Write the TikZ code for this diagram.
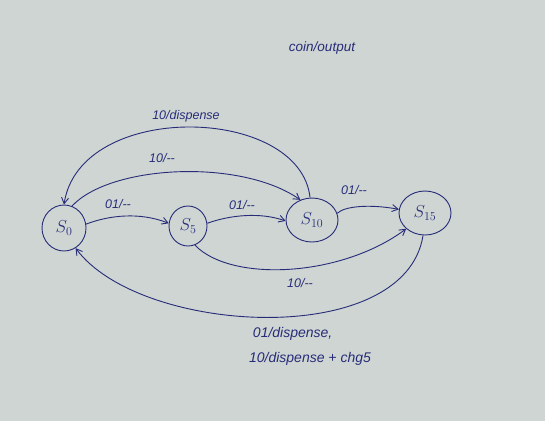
\documentclass[tikz,border=0pt]{standalone}
\usepackage{fontspec}
\setmainfont{Liberation Sans}
\usetikzlibrary{shapes.geometric,arrows.meta}
\definecolor{paper}{RGB}{206,213,211}
\definecolor{ink}{RGB}{40,44,120}
\tikzset{
  state/.style={ellipse,draw=ink,line width=0.9pt,inner sep=0pt,text=ink,font=\fontsize{17}{17}\selectfont},
  edge/.style={draw=ink,line width=0.9pt,-{Straight Barb[length=6pt,width=7pt]}},
  lbl/.style={text=ink,font=\fontsize{12.5}{13}\selectfont\itshape,inner sep=1pt}
}
\begin{document}
\begin{tikzpicture}[x=1pt,y=-1pt]
\fill[paper] (0,0) rectangle (545,421);
\useasboundingbox (0,0) rectangle (545,421);
\node[state,minimum width=44pt,minimum height=46pt] (s0) at (64,228) {$S_0$};
\node[state,minimum width=38pt,minimum height=40pt] (s5) at (188,226) {$S_5$};
\node[state,minimum width=52pt,minimum height=44pt] (s10) at (312,220) {$S_{10}$};
\node[state,minimum width=52pt,minimum height=44pt] (s15) at (425,213) {$S_{15}$};
\node[lbl,font=\fontsize{13.5}{14}\selectfont\itshape] (title) at (322,48) {coin/output};
% straight-ish edges
\draw[edge] (s0.10) .. controls (110,215) and (140,212) .. (s5.172);
\node[lbl] (l1) at (118,204) {01/-{}-};
\draw[edge] (s5.8) .. controls (230,215) and (260,212) .. (s10.182);
\node[lbl] (l2) at (242,205) {01/-{}-};
\draw[edge] (s10.15) .. controls (345,206) and (370,204) .. (s15.172);
\node[lbl] (l3) at (354,190) {01/-{}-};
% top arcs
\draw[edge] (s10.95) .. controls (300,105) and (80,100) .. (s0.90);
\node[lbl] (l4) at (186,116) {10/dispense};
\draw[edge] (s0.70) .. controls (110,165) and (240,158) .. (s10.120);
\node[lbl] (l5) at (162,158) {10/-{}-};
% bottom arcs
\draw[edge] (s5.-70) .. controls (230,282) and (340,278) .. (s15.-140);
\node[lbl] (l6) at (300,283) {10/-{}-};
\draw[edge] (s15.-95) .. controls (405,350) and (140,335) .. (s0.-60);
\node[lbl,align=left,font=\fontsize{14}{15}\selectfont\itshape] (l7) at (310,346) {\ 01/dispense,\\[10pt]10/dispense + chg5};
\end{tikzpicture}
\end{document}
